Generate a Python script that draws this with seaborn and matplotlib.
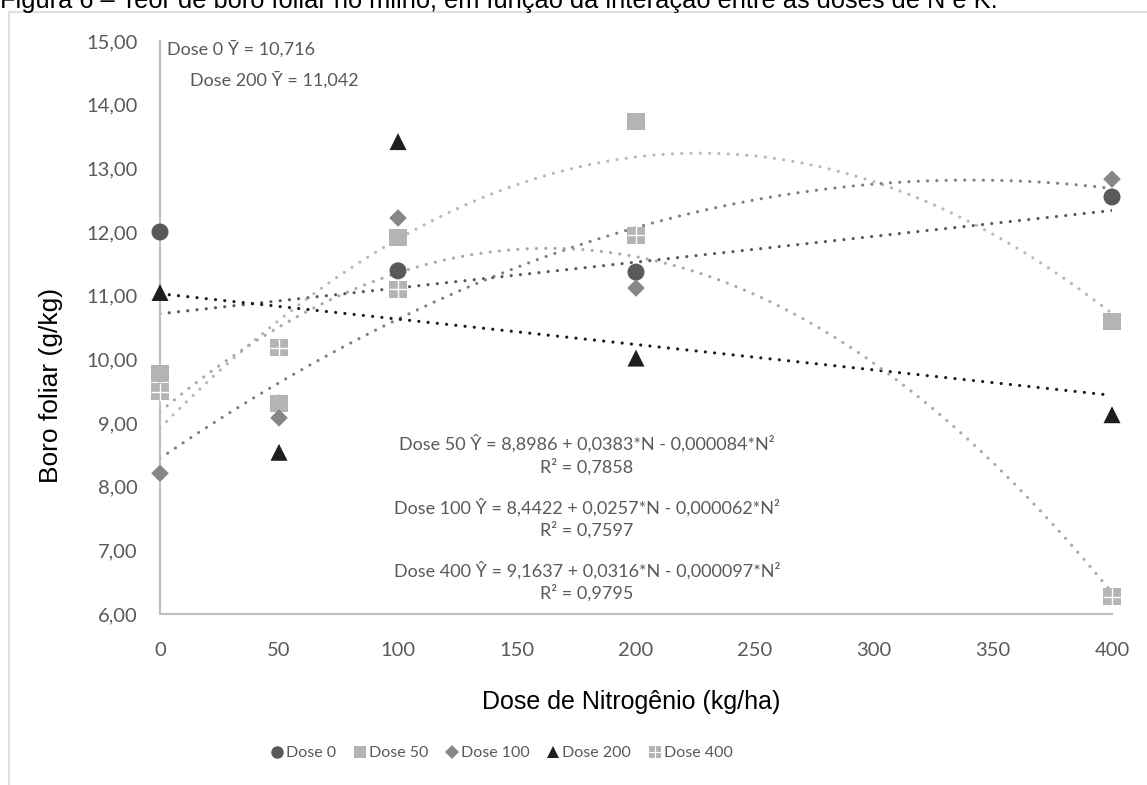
import numpy as np
import pandas as pd
import matplotlib
matplotlib.use("Agg")
import matplotlib.pyplot as plt
from matplotlib.patches import Rectangle
from matplotlib.lines import Line2D
import seaborn as sns

# doses de N (kg/ha)
doses_n = [0, 50, 100, 200, 400]

# boro foliar (g/kg) por dose de K
dose_0 = [12.00, 9.31, 11.39, 11.37, 12.55]
dose_50 = [9.77, 9.30, 11.92, 13.73, 10.60]
dose_100 = [8.21, 9.08, 12.22, 11.12, 12.83]
dose_200 = [11.05, 8.54, 13.42, 10.02, 9.13]
dose_400 = [9.49, 10.18, 11.10, 11.95, 6.27]

series_names = ["Dose 0", "Dose 50", "Dose 100", "Dose 200", "Dose 400"]
x_ticks = [0, 50, 100, 150, 200, 250, 300, 350, 400]
y_ticks = [6, 7, 8, 9, 10, 11, 12, 13, 14, 15]

eq_text = [
    "Dose 50 Ŷ = 8,8986 + 0,0383*N - 0,000084*N²",
    "R² = 0,7858",
    "Dose 100 Ŷ = 8,4422 + 0,0257*N - 0,000062*N²",
    "R² = 0,7597",
    "Dose 400 Ŷ = 9,1637 + 0,0316*N - 0,000097*N²",
    "R² = 0,9795",
]
mean_text = ["Dose 0 Ȳ = 10,716", "Dose 200 Ȳ = 11,042"]

sns.set_style("white")
plt.rcParams["font.family"] = ["Lato", "DejaVu Sans"]

W, H = 1147, 785
fig = plt.figure(figsize=(W / 100, H / 100), dpi=100)
ax = fig.add_axes([160 / W, 1 - 614 / H, (1112 - 160) / W, (614 - 41) / H])

values = [dose_0, dose_50, dose_100, dose_200, dose_400]
colors = ["#595959", "#b4b4b4", "#878787", "#1f1f1f", "#b4b4b4"]
markers = ["o", "s", "D", "^", "s"]
sizes = [150, 150, 80, 150, 150]
orders = [1, 2, 2, 1, 2]
line_colors = ["#5a5a5a", "#b8b8b8", "#808080", "#1a1a1a", "#a8a8a8"]

df = pd.DataFrame({"N": doses_n})
for name, vals in zip(series_names, values):
    df[name] = vals

# linhas de tendencia
for name, order, lc in zip(series_names, orders, line_colors):
    sns.regplot(data=df, x="N", y=name, order=order, ci=None, scatter=False, ax=ax,
                line_kws=dict(color=lc, lw=2.3, linestyle=(0, (0.01, 2.9)),
                              dash_capstyle="round", zorder=2))

# pontos
for name, c, m, s in zip(series_names, colors, markers, sizes):
    sns.scatterplot(data=df, x="N", y=name, color=c, marker=m, s=s,
                    edgecolor="none", linewidth=0, ax=ax, zorder=3, clip_on=False)
ax.scatter(df["N"], df["Dose 400"], marker="+", s=150, color="white", linewidth=1.0,
           zorder=4, clip_on=False)

ax.set_xlim(0, 400)
ax.set_ylim(6, 15)
ax.set_xticks(x_ticks)
ax.set_yticks(y_ticks)
ax.set_yticklabels([f"{v:.2f}".replace(".", ",") for v in y_ticks])
ax.tick_params(axis="both", length=0, labelsize=14.5, labelcolor="#595959")
ax.tick_params(axis="x", pad=20)
ax.tick_params(axis="y", pad=16)
for sp in ["top", "right"]:
    ax.spines[sp].set_visible(False)
for sp in ["left", "bottom"]:
    ax.spines[sp].set_color("#bfbfbf")
    ax.spines[sp].set_linewidth(1.5)
ax.set_xlabel("")
ax.set_ylabel("")

fig.text(631 / W, 1 - 702 / H, "Dose de Nitrogênio (kg/ha)", ha="center", va="center",
         fontsize=18, family="Liberation Sans", color="#000000")
fig.text(51 / W, 1 - 385 / H, "Boro foliar (g/kg)", ha="center", va="center", rotation=90,
         fontsize=19, family="Liberation Sans", color="#000000")

# titulo cortado no topo
fig.text(0.0, 1 - 8 / H, "Figura 6 – Teor de boro foliar no milho, em função da interação entre as doses de N e K.",
         ha="left", va="baseline", fontsize=18.3, family="Liberation Sans", color="#000000")

# moldura do grafico
fig.add_artist(Rectangle((9 / W, -0.1), 1.2, 1.1 - 12 / H, transform=fig.transFigure,
                         fill=False, edgecolor="#d9d9d9", linewidth=1.2))

# anotacoes
fig.text(167 / W, 1 - 49 / H, mean_text[0], ha="left", va="center", fontsize=13, color="#595959")
fig.text(190 / W, 1 - 80 / H, mean_text[1], ha="left", va="center", fontsize=13, color="#595959")
eq_y = [443, 467, 507, 530, 570, 593]
for t, yy in zip(eq_text, eq_y):
    fig.text(587 / W, 1 - yy / H, t, ha="center", va="center", fontsize=13, color="#595959")

# legenda
handles = []
for c, m in zip(colors[:4], markers[:4]):
    ms = 7 if m == "D" else 9
    handles.append(Line2D([], [], linestyle="none", marker=m, color=c, markersize=ms, markeredgewidth=0))
sq = Line2D([], [], linestyle="none", marker="s", color=colors[4], markersize=9, markeredgewidth=0)
cross = Line2D([], [], linestyle="none", marker="+", color="white", markersize=9, markeredgewidth=0.8)
handles.append((sq, cross))
fig.legend(handles, series_names, loc="center", bbox_to_anchor=(502 / W, 1 - 753 / H), ncol=5,
           frameon=False, fontsize=11.5, labelcolor="#595959", handlelength=0.7, handletextpad=0.2,
           columnspacing=1.15)

fig.savefig("out.png", dpi=100)
